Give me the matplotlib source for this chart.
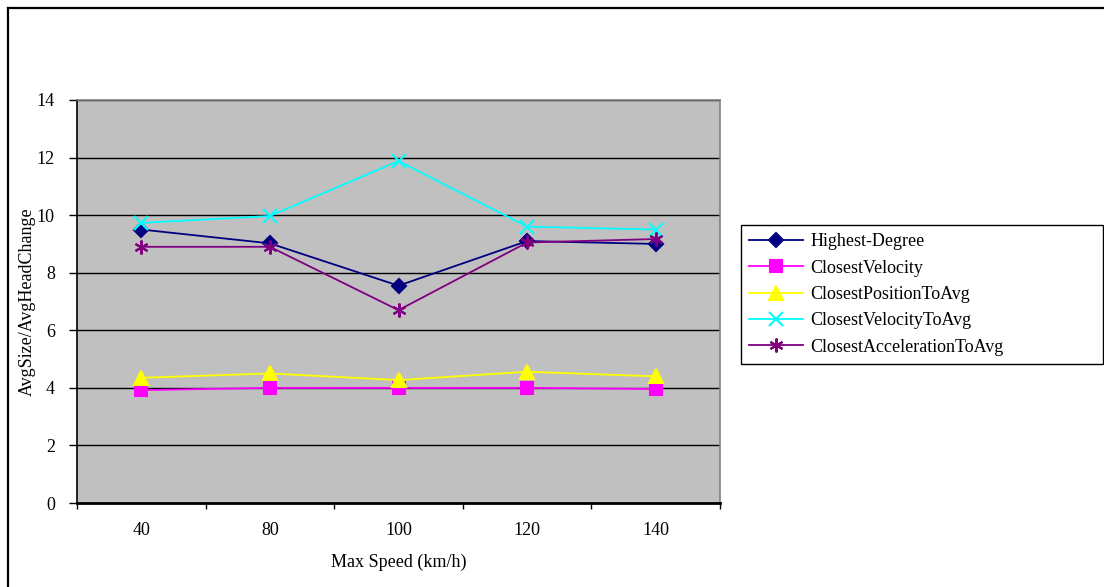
import matplotlib
matplotlib.use("Agg")
import matplotlib.pyplot as plt
from matplotlib.lines import Line2D

categories = ["40", "80", "100", "120", "140"]
highest_degree = [9.5, 9.02, 7.55, 9.1, 9.0]
closest_velocity = [3.92, 4.0, 4.0, 4.0, 3.96]
closest_position_to_avg = [4.35, 4.5, 4.27, 4.56, 4.4]
closest_velocity_to_avg = [9.73, 9.97, 11.88, 9.6, 9.5]
closest_accel_to_avg = [8.9, 8.9, 6.7, 9.05, 9.17]

series_names = ["Highest-Degree", "ClosestVelocity", "ClosestPositionToAvg",
                "ClosestVelocityToAvg", "ClosestAccelerationToAvg"]
series_values = [highest_degree, closest_velocity, closest_position_to_avg,
                 closest_velocity_to_avg, closest_accel_to_avg]
colors = ["#000080", "#FF00FF", "#FFFF00", "#00FFFF", "#800080"]
markers = ["D", "s", "^", "x", (6, 2, 0)]
msizes = [7, 8.5, 9.5, 9.5, 10]

plt.rcParams["font.family"] = ["Liberation Serif", "DejaVu Serif"]

W, H = 1104, 587
fig = plt.figure(figsize=(W / 100, H / 100), dpi=100)
fig.patch.set_facecolor("white")

# figure border (top and left)
fig.add_artist(Line2D([7.5 / W, 1.0], [1 - 7.5 / H, 1 - 7.5 / H], transform=fig.transFigure,
                      color="black", lw=1.6))
fig.add_artist(Line2D([7.5 / W, 7.5 / W], [0, 1 - 7.5 / H], transform=fig.transFigure,
                      color="black", lw=1.6))

x0, x1, ytop, ybot = 77, 720, 100, 503
ax = fig.add_axes([x0 / W, 1 - ybot / H, (x1 - x0) / W, (ybot - ytop) / H])
ax.set_facecolor("#C0C0C0")

xs = list(range(len(categories)))
for name, vals, c, m, ms in zip(series_names, series_values, colors, markers, msizes):
    ax.plot(xs, vals, color=c, lw=1.3, marker=m, markersize=ms,
            markerfacecolor=c, markeredgecolor=c, markeredgewidth=1.5, label=name, zorder=3)

ax.set_xlim(-0.5, len(categories) - 0.5)
ax.set_ylim(0, 14)
ax.set_yticks(range(0, 15, 2))
ax.yaxis.grid(True, color="black", lw=1.0)
ax.set_axisbelow(True)

ax.set_xticks(xs)
ax.set_xticklabels(categories)
ax.set_xticks([i - 0.5 for i in range(len(categories) + 1)], minor=True)
ax.tick_params(axis="x", which="major", length=0, pad=14, labelsize=13)
ax.tick_params(axis="x", which="minor", length=4, width=1, color="black", direction="out")
ax.tick_params(axis="y", length=5.5, width=1, color="black", direction="out", pad=10.5,
               labelsize=13)

for s in ["top", "right"]:
    ax.spines[s].set_color("#808080")
    ax.spines[s].set_linewidth(1.2)
ax.spines["left"].set_color("black")
ax.spines["left"].set_linewidth(1.2)
ax.spines["bottom"].set_color("black")
ax.spines["bottom"].set_linewidth(2)

ax.set_xlabel("Max Speed (km/h)", fontsize=13, labelpad=10)
ax.set_ylabel("AvgSize/AvgHeadChange", fontsize=13, labelpad=0.5)

lx0, lx1, ly0, ly1 = 741, 1103, 225, 364
leg = fig.legend(loc="upper left",
                 bbox_to_anchor=(lx0 / W, 1 - ly0 / H, (lx1 - lx0) / W, 0),
                 mode="expand", fontsize=13, frameon=True, fancybox=False,
                 edgecolor="black", framealpha=1, handlelength=3.0,
                 handletextpad=0.4, labelspacing=0.52, borderpad=0.45,
                 borderaxespad=0)
leg.get_frame().set_linewidth(1.0)

fig.savefig("out.png", dpi=100)
